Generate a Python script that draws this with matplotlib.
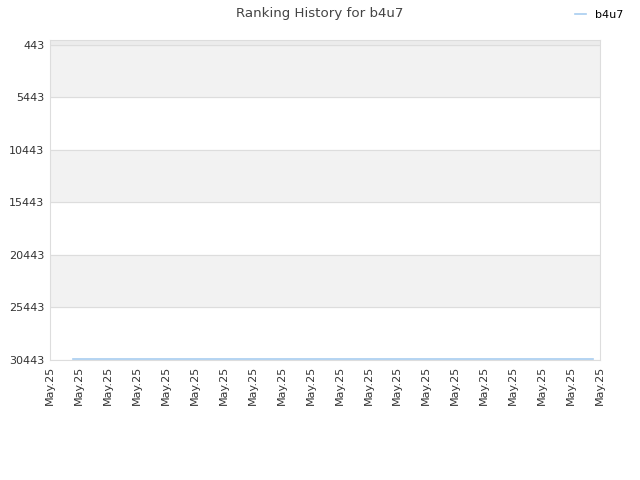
import matplotlib
matplotlib.use("Agg")
import matplotlib.pyplot as plt
import numpy as np

# data
tick_labels = ["May.25"] * 20
y_ticks = [443, 5443, 10443, 15443, 20443, 25443, 30443]
days = [0.8, 3, 6, 9, 12, 15, 18.75]
ranks = [30330, 30330, 30330, 30330, 30330, 30330, 30330]

fig = plt.figure(figsize=(6.4, 4.8), dpi=100)
ax = fig.add_axes([50 / 640, 1 - 360 / 480, 550 / 640, 320 / 480])

# alternating bands
for i in range(len(y_ticks) - 1):
    if i % 2 == 0:
        ax.axhspan(y_ticks[i], y_ticks[i + 1], color="#f2f2f2", zorder=0)
ax.axhspan(0, y_ticks[0], color="#ececec", zorder=0)

ax.plot(days, ranks, color="#a8cdf0", lw=1.2, label="b4u7", zorder=3)

ax.set_xlim(0, 19)
ax.set_ylim(30443, 0)
ax.set_xticks(np.arange(len(tick_labels)))
ax.set_xticklabels(tick_labels, rotation=90, fontsize=8, color="#333333")
ax.set_yticks(y_ticks)
ax.set_yticklabels([str(v) for v in y_ticks], fontsize=8, color="#333333")
ax.tick_params(length=0, pad=4)
ax.grid(axis="y", color="#dddddd", lw=0.8)
ax.set_axisbelow(True)
for s in ax.spines.values():
    s.set_color("#dddddd")

fig.suptitle("Ranking History for b4u7", x=0.5, y=0.985, fontsize=9.6, color="#444444")
fig.legend(loc="upper right", bbox_to_anchor=(0.99, 1.0), frameon=False, fontsize=8,
           handlelength=1.0)

fig.savefig("out.png", dpi=100)
